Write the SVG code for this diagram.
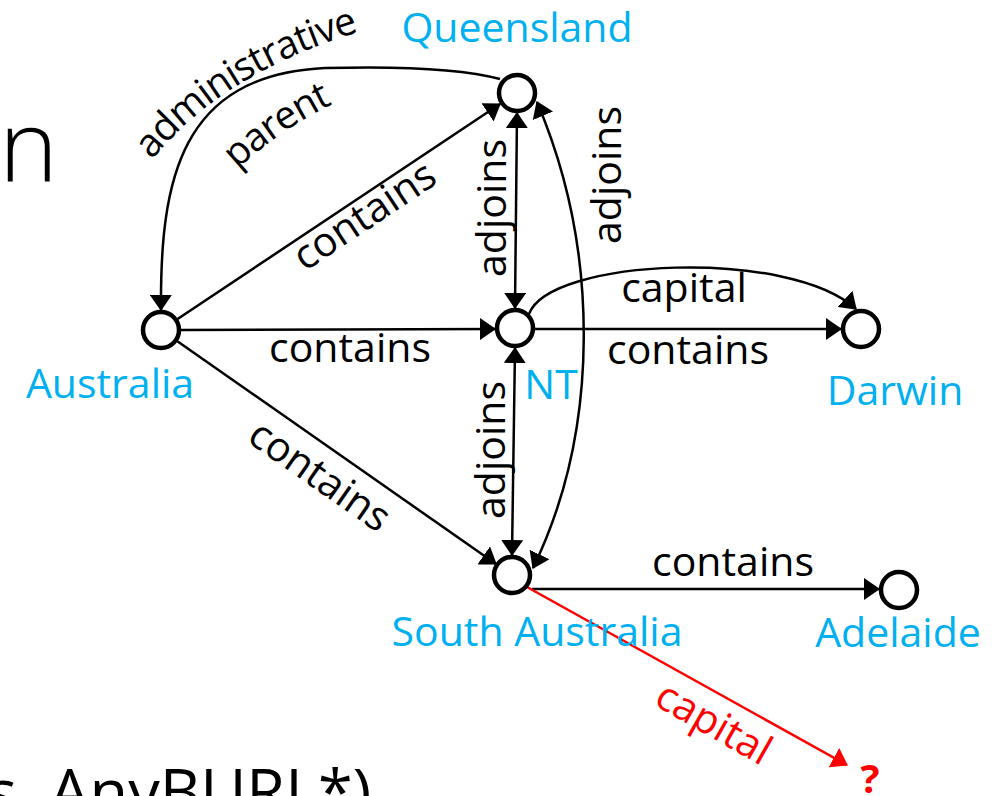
<svg xmlns="http://www.w3.org/2000/svg" width="994" height="796" viewBox="0 0 994 796">
<style>
.node circle{fill:#fff;stroke:#000;stroke-width:4.5}
.lbl{font-family:"Open Sans","Noto Sans",sans-serif;font-size:41px;fill:#00B0F0;text-anchor:middle}
.el{font-family:"Open Sans","Noto Sans",sans-serif;font-size:41px;fill:#000;text-anchor:middle}
.arc{font-size:39px;letter-spacing:-1px}
.red{fill:#FF0000}
.edge{fill:none;stroke:#000;stroke-width:2.5}
.edge.r{stroke:#FF0000}
.title{font-family:"Open Sans","Noto Sans",sans-serif;fill:#000}
</style>
<defs>
<marker id="ah" viewBox="0 0 16 22" markerWidth="16" markerHeight="22" refX="15" refY="11" orient="auto-start-reverse" markerUnits="userSpaceOnUse"><path d="M0,0 L16,11 L0,22 z" fill="#000"/></marker>
<marker id="ahr" viewBox="0 0 16 22" markerWidth="16" markerHeight="22" refX="15" refY="11" orient="auto" markerUnits="userSpaceOnUse"><path d="M0,0 L16,11 L0,22 z" fill="#FF0000"/></marker>
<path id="p-admin" d="M152,160 Q222,74 358,32"/>
<path id="p-parent" d="M226,180 Q278,128 346,98"/>
</defs>
<text class="title" x="-1" y="182" font-size="100" font-weight="300">n</text>
<text class="title" x="-13" y="814" font-size="63">s, AnyBURL*)</text>
<g id="connectors">
<path class="edge" d="M500,79 C460,68 400,66 325,68 C180,75 160,180 161,310" marker-end="url(#ah)"/>
<path class="edge" d="M177.6,319 L500,104" marker-end="url(#ah)"/>
<path class="edge" d="M181,330 L495,329" marker-end="url(#ah)"/>
<path class="edge" d="M177,341 L496,564" marker-end="url(#ah)"/>
<path class="edge" d="M517,113 L515,308" marker-start="url(#ah)" marker-end="url(#ah)"/>
<path class="edge" d="M515,348 L512,555" marker-start="url(#ah)" marker-end="url(#ah)"/>
<path class="edge" d="M537,102 C600,250 600,430 533,568" marker-start="url(#ah)" marker-end="url(#ah)"/>
<path class="edge" d="M535,329 L841,329" marker-end="url(#ah)"/>
<path class="edge" d="M529,314 C550,258 790,248 856,309" marker-end="url(#ah)"/>
<path class="edge" d="M532,589 L879,589" marker-end="url(#ah)"/>
<path class="edge r" d="M527,587 L847,765" marker-end="url(#ahr)"/>
<text class="el arc"><textPath href="#p-admin" startOffset="50%">administrative</textPath></text>
<text class="el arc"><textPath href="#p-parent" startOffset="50%">parent</textPath></text>
<text class="el" transform="translate(372,227) rotate(-33.7)">contains</text>
<text class="el" x="350" y="362">contains</text>
<text class="el" transform="translate(312,487) rotate(34.9)">contains</text>
<text class="el" transform="translate(506,208) rotate(-90)">adjoins</text>
<text class="el" transform="translate(505,450) rotate(-90)">adjoins</text>
<text class="el" transform="translate(621,175) rotate(-90)">adjoins</text>
<text class="el" x="684" y="302">capital</text>
<text class="el" x="688" y="364">contains</text>
<text class="el" x="733" y="576">contains</text>
<text class="el red" transform="translate(707,735) rotate(29.6)">capital</text>
</g>
<g id="queensland" class="node"><circle cx="517" cy="93" r="18"/><text class="lbl" x="517" y="42">Queensland</text></g>
<g id="australia" class="node"><circle cx="161" cy="330" r="18"/><text class="lbl" x="110" y="398">Australia</text></g>
<g id="nt" class="node"><circle cx="515" cy="328" r="18"/><text class="lbl" x="551" y="399">NT</text></g>
<g id="darwin" class="node"><circle cx="861" cy="329" r="18"/><text class="lbl" x="895" y="405">Darwin</text></g>
<g id="south-australia" class="node"><circle cx="512" cy="575" r="18"/><text class="lbl" x="537" y="646">South Australia</text></g>
<g id="adelaide" class="node"><circle cx="899" cy="590" r="18"/><text class="lbl" x="898" y="647">Adelaide</text></g>
<g id="unknown"><text x="870" y="793" font-family="Open Sans, sans-serif" font-size="40" font-weight="700" fill="#FF0000" text-anchor="middle">?</text></g>
</svg>
